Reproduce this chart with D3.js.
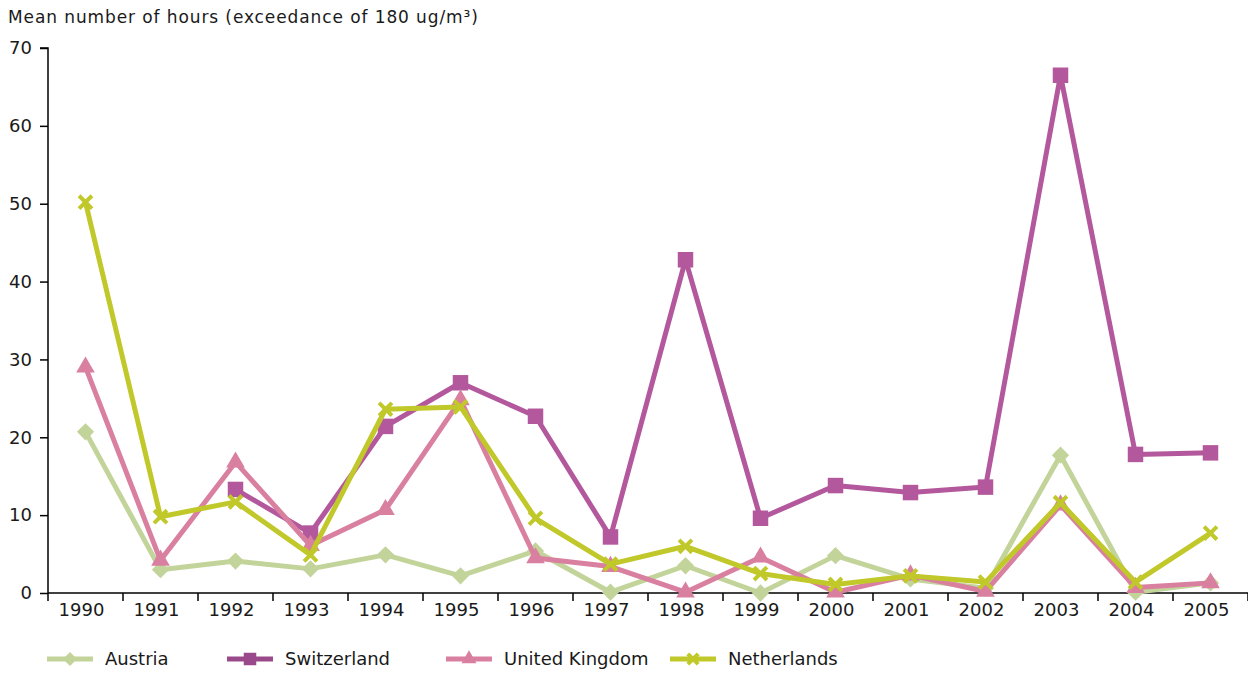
<!DOCTYPE html>
<html>
<head>
<meta charset="UTF-8">
<script src="https://d3js.org/d3.v7.min.js"></script>
<style>
  body { margin: 0; background: #fff; }
  svg text { font-family: "DejaVu Sans", Verdana, sans-serif; fill: #1a1a1a; }
</style>
</head>
<body>
<svg id="chart" width="1248" height="673"></svg>
<script>
// data
const years = ['1990','1991','1992','1993','1994','1995','1996','1997','1998','1999','2000','2001','2002','2003','2004','2005'];
const austria     = [20.7, 3.0, 4.1, 3.1, 4.9, 2.2, 5.4, 0.1, 3.5, 0.0, 4.8, 1.8, 0.6, 17.7, 0.1, 1.3];
const switzerland = [null, null, 13.3, 7.7, 21.4, 27.0, 22.7, 7.2, 42.8, 9.6, 13.8, 12.9, 13.6, 66.5, 17.8, 18.0];
const uk          = [29.0, 4.2, 16.8, 6.1, 10.7, 24.8, 4.5, 3.4, 0.1, 4.6, 0.1, 2.3, 0.2, 11.3, 0.7, 1.3];
const netherlands = [50.2, 9.8, 11.7, 4.9, 23.6, 23.9, 9.6, 3.7, 6.0, 2.5, 1.1, 2.2, 1.4, 11.6, 1.4, 7.7];
const yTicks = [0, 10, 20, 30, 40, 50, 60, 70];

const series = [
  { name: 'Austria', values: austria, color: '#c3d49b', legendColor: '#c3d49b', symbol: d3.symbolDiamond2, size: 190 },
  { name: 'Switzerland', values: switzerland, color: '#b3589c', legendColor: '#9a4a8a', symbol: d3.symbolSquare, size: 240 },
  { name: 'United Kingdom', values: uk, color: '#d97fa0', legendColor: '#d97fa0', symbol: d3.symbolTriangle, size: 150 },
  { name: 'Netherlands', values: netherlands, color: '#c0c82a', legendColor: '#c0c82a', symbol: d3.symbolX, size: 110 }
];

const svg = d3.select('#chart');
const plotLeft = 48, plotRight = 1248, plotTop = 48, plotBottom = 593;

const x = d3.scaleBand().domain(years).range([plotLeft, plotRight]);
const y = d3.scaleLinear().domain([0, 70]).range([plotBottom, plotTop]);

// title
svg.append('text').attr('x', 8).attr('y', 23).attr('font-size', 17)
  .attr('letter-spacing', 0.9)
  .text('Mean number of hours (exceedance of 180 ug/m³)');

// y axis
const yAxis = svg.append('g').attr('transform', `translate(${plotLeft},0)`)
  .call(d3.axisLeft(y).tickValues(yTicks).tickSize(8).tickPadding(8));
yAxis.select('.domain').attr('d', `M-8,${plotTop}H0V${plotBottom}`);

// x axis
const xAxis = svg.append('g').attr('transform', `translate(0,${plotBottom})`)
  .call(d3.axisBottom(x).tickSize(0).tickPadding(10));
xAxis.select('.domain').attr('d', `M${plotLeft},0H${plotRight}`);
xAxis.selectAll('.tick text').attr('dx', -4);
xAxis.selectAll('.sep').data(years.concat(['end'])).join('line')
  .attr('class', 'sep')
  .attr('x1', (d, i) => plotLeft + i * x.step()).attr('x2', (d, i) => plotLeft + i * x.step())
  .attr('y1', 0).attr('y2', 8);

[yAxis, xAxis].forEach(g => {
  g.selectAll('.domain, line').attr('stroke', '#000').attr('stroke-width', 1.5);
  g.selectAll('text').attr('font-size', 18).attr('fill', '#1a1a1a').attr('font-family', '"DejaVu Sans", Verdana, sans-serif');
});

const cx = d => x(d) + x.bandwidth() / 2;
const line = d3.line().defined(d => d[1] != null).x(d => cx(d[0])).y(d => y(d[1]));

series.forEach(s => {
  const pts = years.map((yr, i) => [yr, s.values[i]]);
  const g = svg.append('g');
  g.append('path').attr('d', line(pts)).attr('fill', 'none')
    .attr('stroke', s.color).attr('stroke-width', 5).attr('stroke-linejoin', 'round');
  const sym = d3.symbol().type(s.symbol).size(s.size);
  g.selectAll('path.m').data(pts.filter(d => d[1] != null)).join('path')
    .attr('class', 'm').attr('d', sym)
    .attr('transform', d => `translate(${cx(d[0])},${y(d[1])})`)
    .attr('fill', s.symbol === d3.symbolX ? 'none' : s.color)
    .attr('stroke', s.symbol === d3.symbolX ? s.color : 'none')
    .attr('stroke-width', 4);
});

// legend
const legendX = [47, 227, 446, 670];
series.forEach((s, i) => {
  const g = svg.append('g').attr('transform', `translate(${legendX[i]},659)`);
  g.append('line').attr('x1', 0).attr('x2', 46).attr('stroke', s.legendColor).attr('stroke-width', 5);
  g.append('path').attr('d', d3.symbol().type(s.symbol).size(s.size * 0.65)())
    .attr('transform', 'translate(23,0)')
    .attr('fill', s.symbol === d3.symbolX ? 'none' : s.legendColor)
    .attr('stroke', s.symbol === d3.symbolX ? s.legendColor : 'none')
    .attr('stroke-width', 4);
  g.append('text').attr('x', 58).attr('dy', '0.35em').attr('font-size', 18).text(s.name);
});
</script>
</body>
</html>
